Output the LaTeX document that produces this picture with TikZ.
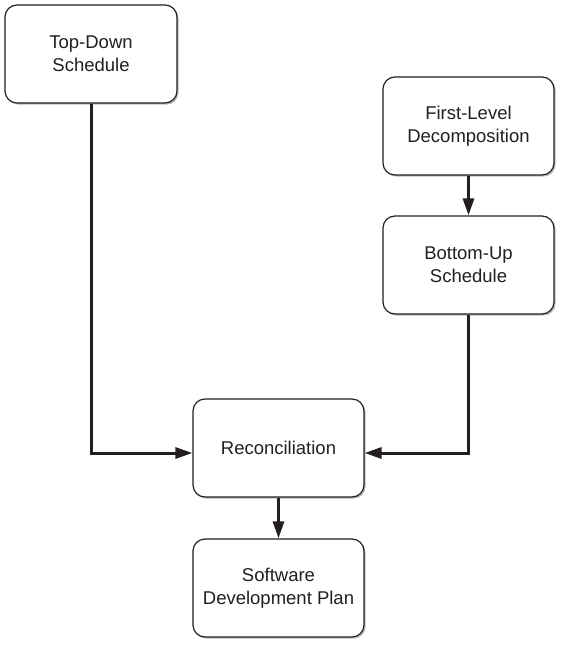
\documentclass[tikz,border=0pt]{standalone}
\usepackage{fontspec}
\setmainfont{Liberation Sans}
\usetikzlibrary{arrows.meta,shadows}
\definecolor{ink}{HTML}{231F20}
\tikzset{
  box/.style={draw=ink, line width=1.2pt, rounded corners=12pt, fill=white,
    minimum width=171pt, minimum height=98pt, align=center, inner sep=0pt,
    font=\fontsize{18.5pt}{23pt}\selectfont, text=ink,
    drop shadow={shadow xshift=1.6pt, shadow yshift=-1.6pt, fill=black!45, opacity=0.6}},
  conn/.style={draw=ink, line width=3pt, -{Triangle[length=17pt,width=11pt]}}
}
\begin{document}
\begin{tikzpicture}[x=1pt,y=-1pt]
\useasboundingbox (0,0) rectangle (562,645);
\node[box, minimum width=172pt] (td) at (91,54) {Top-Down\\Schedule};
\node[box] (fl) at (468.5,126) {First-Level\\Decomposition};
\node[box] (bu) at (468.5,265) {Bottom-Up\\Schedule};
\node[box] (rec) at (278.5,448) {Reconciliation};
\node[box] (sdp) at (278.5,588) {Software\\Development Plan};
\draw[conn] (td.south) |- ([yshift=-5pt]rec.west);
\draw[conn] (bu.south) |- ([yshift=-5pt]rec.east);
\draw[conn] (fl.south) -- (bu.north);
\draw[conn] (rec.south) -- (sdp.north);
\end{tikzpicture}
\end{document}
